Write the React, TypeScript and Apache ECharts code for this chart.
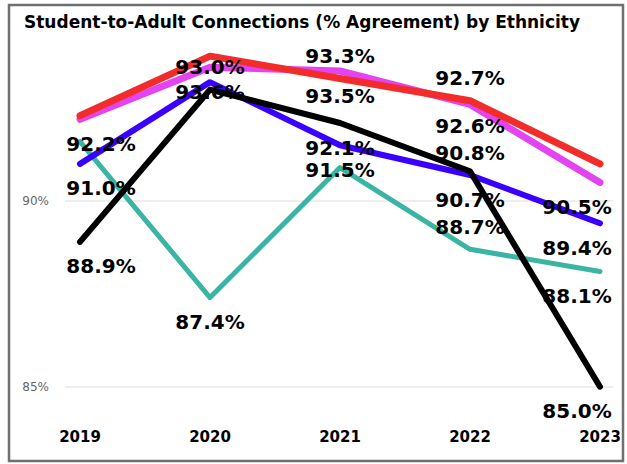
import React, { useEffect, useRef } from "react";
import * as echarts from "echarts";

const years = ["2019", "2020", "2021", "2022", "2023"];
const redValues = [92.3, 93.9, 93.3, 92.7, 91.0];
const magentaValues = [92.2, 93.6, 93.5, 92.6, 90.5];
const blueValues = [91.0, 93.2, 91.5, 90.7, 89.4];
const blackValues = [88.9, 93.0, 92.1, 90.8, 85.0];
const tealValues = [91.6, 87.4, 90.9, 88.7, 88.1];

// which data labels are shown, and on which side of the point
const redLabelSide = [null, null, "top", "top", null];
const magentaLabelSide = ["bottom", "bottom", "bottom", "bottom", "bottom"];
const blueLabelSide = ["bottom", null, "bottom", "bottom", "bottom"];
const blackLabelSide = ["bottom", "top", "bottom", "top", "bottom"];
const tealLabelSide = [null, "bottom", null, "top", "bottom"];

// label gap from the point (null = default)
const magentaLabelGap = [null, null, null, 11, null];
const blackLabelGap = [null, null, null, 8, null];
const noGap = [null, null, null, null, null];

const labelShiftX = [21, 0, 0, 0, -23];

const FONT = "DejaVu Sans";

function makeSeries(
  name: string,
  values: number[],
  sides: (string | null)[],
  gaps: (number | null)[],
  color: string,
  width: number
) {
  return {
    name,
    type: "line",
    symbol: "circle",
    symbolSize: 1,
    showSymbol: true,
    clip: false,
    emphasis: { disabled: true },
    itemStyle: { color },
    lineStyle: { color, width, cap: "round", join: "round" },
    data: values.map((v, i) => {
      const side = sides[i];
      const gap = gaps[i] != null ? gaps[i] : side === "top" ? 12 : 14;
      return {
        value: [i, v],
        label: side
          ? {
              show: true,
              position: side,
              distance: gap,
              offset: [labelShiftX[i], 0],
              formatter: (p: any) => p.value[1].toFixed(1) + "%",
              fontFamily: FONT,
              fontWeight: "bold",
              fontSize: 20,
              color: "#000",
            }
          : { show: false },
      };
    }),
  };
}

export default function App() {
  const ref = useRef<HTMLDivElement>(null);
  useEffect(() => {
    if (!ref.current) return;
    const chart = echarts.init(ref.current, undefined, { renderer: "svg" });
    chart.setOption({
      animation: false,
      backgroundColor: "#fff",
      title: {
        text: "Student-to-Adult Connections (% Agreement) by Ethnicity",
        left: 19,
        top: 8,
        textStyle: { fontFamily: FONT, fontWeight: "bold", fontSize: 17, color: "#000" },
      },
      grid: { left: 65, right: 14, top: 15.3, bottom: 77.3, containLabel: false },
      xAxis: {
        type: "value",
        min: -15 / 130,
        max: 4 + 13 / 130,
        axisLine: { show: false },
        axisTick: { show: false },
        splitLine: { show: false },
        axisLabel: {
          customValues: [0, 1, 2, 3, 4],
          formatter: (v: number) => years[Math.round(v)],
          margin: 43,
          fontFamily: FONT,
          fontWeight: "bold",
          fontSize: 15,
          color: "#000",
        },
      },
      yAxis: {
        type: "value",
        min: 85,
        max: 95,
        interval: 5,
        axisLine: { show: false },
        axisTick: { show: false },
        splitLine: { show: true, showMaxLine: false, lineStyle: { color: "#e8e8e8", width: 1.5 } },
        axisLabel: {
          showMaxLabel: false,
          formatter: (v: number) => (v >= 95 ? "" : v + "%"),
          margin: 16,
          fontFamily: FONT,
          fontSize: 12,
          color: "#666",
        },
      },
      graphic: [
        {
          type: "rect",
          silent: true,
          z: 100,
          shape: { x: 9, y: 5, width: 614, height: 456 },
          style: { fill: "none", stroke: "#707070", lineWidth: 2.5 },
        },
      ],
      series: [
        makeSeries("Teal", tealValues, tealLabelSide, noGap, "#3AB5A4", 5),
        makeSeries("Blue", blueValues, blueLabelSide, noGap, "#3A00FF", 6),
        makeSeries("Magenta", magentaValues, magentaLabelSide, magentaLabelGap, "#E343F0", 7),
        makeSeries("Red", redValues, redLabelSide, noGap, "#F22B2B", 7),
        makeSeries("Black", blackValues, blackLabelSide, blackLabelGap, "#000000", 6),
      ],
    });
    return () => chart.dispose();
  }, []);
  return <div ref={ref} style={{ position: "absolute", left: 0, top: 0, width: 627, height: 464 }} />;
}
